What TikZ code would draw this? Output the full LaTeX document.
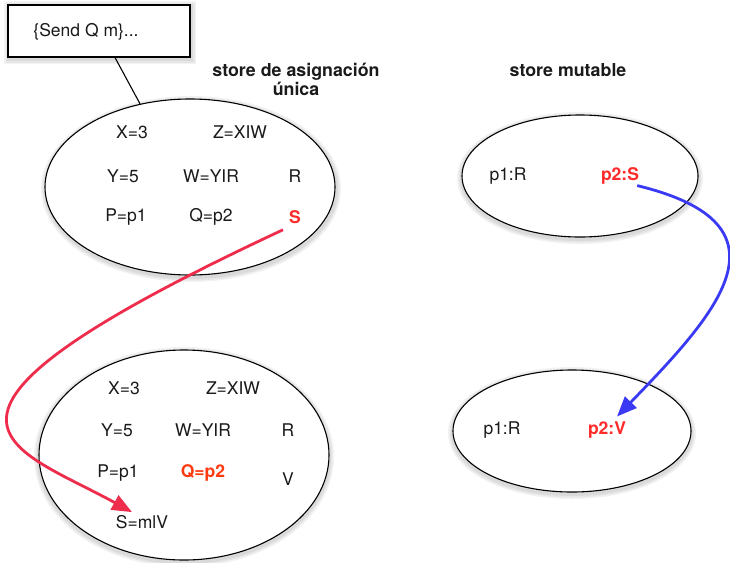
\documentclass[tikz,border=0pt]{standalone}
\usepackage{fontspec}
\setmainfont{TeX Gyre Heros}
\usetikzlibrary{shapes.geometric,arrows.meta}
\definecolor{ink}{HTML}{1A1A1A}
\definecolor{redarrow}{HTML}{EE2C4C}
\definecolor{redtext}{HTML}{FF2A2A}
\definecolor{orangetext}{HTML}{FF3A10}
\definecolor{bluearrow}{HTML}{3A3AF5}
\tikzset{
  lbl/.style={text=ink, inner sep=0pt, font=\fontsize{17.5}{20}\selectfont},
  hot/.style={lbl, text=redtext, font=\fontsize{17.5}{20}\selectfont\bfseries},
  hotorange/.style={lbl, text=orangetext, font=\fontsize{17.5}{20}\selectfont\bfseries},
  title/.style={text=ink, inner sep=0pt, align=center, font=\fontsize{17.8}{19}\selectfont\bfseries},
  store/.style={ellipse, draw=black, line width=1.1pt, fill=white, inner sep=0pt},
  halo/.style={ellipse, draw=black, draw opacity=0.05, line width=#1, inner sep=0pt},
  note/.style={rectangle, draw=black, line width=1.1pt, fill=white, inner sep=0pt},
  flow/.style={line width=2.8pt, -{Triangle[length=20pt,width=16pt]}},
}
\begin{document}
\begin{tikzpicture}[x=1pt, y=-1pt]
\useasboundingbox (0,0) rectangle (730,562);

% soft halos under the shapes
\foreach \w in {10pt,7pt,4pt}{
  \node[halo=\w, minimum width=290pt, minimum height=176pt] at (191,189) {};
  \node[halo=\w, minimum width=290pt, minimum height=210pt] at (184,457) {};
  \node[halo=\w, minimum width=236pt, minimum height=122pt] at (580,178) {};
  \node[halo=\w, minimum width=238pt, minimum height=122pt] at (572,433) {};
  \draw[black, opacity=0.05, line width=\w] (9,6) rectangle (191,59);
}

% comment box
\node[note, minimum width=182pt, minimum height=52pt] (box) at (99,31) {};
\node[lbl] (sendtxt) at (86,32) {\{Send Q m\}...};

% headings
\node[title] (titleA) at (296,79) {store de asignación\\única};
\node[title] (titleB) at (568,70) {store mutable};

% single-assignment store, before
\node[store, minimum width=290pt, minimum height=176pt] (sa1) at (190,187) {};
\node[lbl] (a1x) at (132,132) {X=3};
\node[lbl] (a1z) at (240,132) {Z=XIW};
\node[lbl] (a1y) at (123,176) {Y=5};
\node[lbl] (a1w) at (211,176) {W=YIR};
\node[lbl] (a1r) at (295,176) {R};
\node[lbl] (a1p) at (126,217) {P=p1};
\node[lbl] (a1q) at (211,217) {Q=p2};
\node[hot] (a1s) at (295,217) {S};

% single-assignment store, after
\node[store, minimum width=290pt, minimum height=210pt] (sa2) at (184,455) {};
\node[lbl] (b2x) at (124,388) {X=3};
\node[lbl] (b2z) at (233,388) {Z=XIW};
\node[lbl] (b2y) at (117,430) {Y=5};
\node[lbl] (b2w) at (203,430) {W=YIR};
\node[lbl] (b2r) at (288,430) {R};
\node[lbl] (b2p) at (118,473) {P=p1};
\node[hotorange] (b2q) at (203,473) {Q=p2};
\node[lbl] (b2v) at (288,479) {V};
\node[lbl] (b2s) at (142,522) {S=mlV};

% mutable store, before and after
\node[store, minimum width=236pt, minimum height=122pt] (mu1) at (580,176) {};
\node[lbl] (m1a) at (508,176) {p1:R};
\node[hot] (m1b) at (620,176) {p2:S};
\node[store, minimum width=238pt, minimum height=122pt] (mu2) at (572,431) {};
\node[lbl] (m2a) at (502,430) {p1:R};
\node[hot] (m2b) at (607,430) {p2:V};

% connectors
\draw[black, line width=1.1pt] ([xshift=16pt]box.south) -- (sa1.121);
\draw[flow, redarrow] ([xshift=-12pt,yshift=-6pt]a1s.south) .. controls (-125,420) and (10,445) .. ([xshift=-10pt,yshift=3pt]b2s.north);
\draw[flow, bluearrow] ([xshift=-2pt,yshift=-1pt]m1b.south east) .. controls (800,225) and (715,315) .. ([xshift=10pt,yshift=5pt]m2b.north);
\end{tikzpicture}
\end{document}
